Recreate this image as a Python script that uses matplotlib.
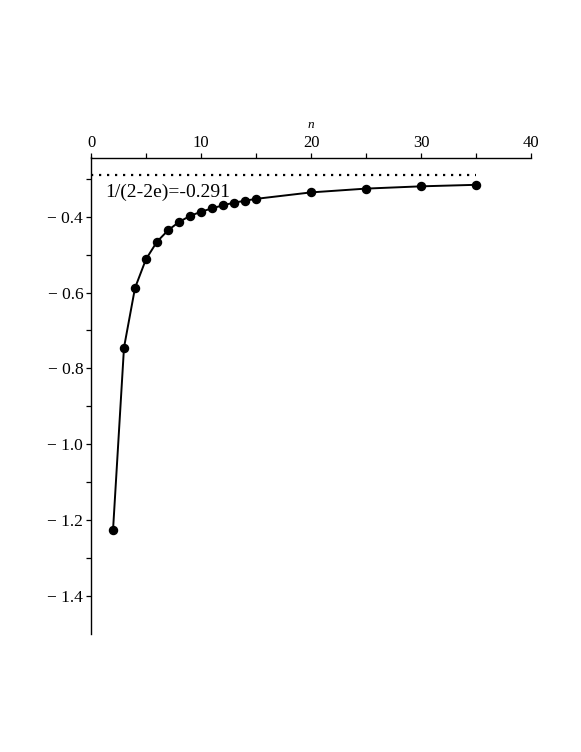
import matplotlib
matplotlib.use("Agg")
import matplotlib.pyplot as plt
from matplotlib.ticker import MultipleLocator, FixedLocator

n_vals = [2, 3, 4, 5, 6, 7, 8, 9, 10, 11, 12, 13, 14, 15, 20, 25, 30, 35]
f_vals = [-1.227, -0.745, -0.588, -0.512, -0.466, -0.436, -0.414, -0.398, -0.387,
          -0.378, -0.370, -0.363, -0.358, -0.353, -0.336, -0.326, -0.320, -0.316]
limit_val = -0.291
limit_label = "1/(2-2e)=-0.291"
xticks = [0, 10, 20, 30, 40]
yticks = [-0.4, -0.6, -0.8, -1.0, -1.2, -1.4]
ytick_labels = ["\u2212 0.4", "\u2212 0.6", "\u2212 0.8", "\u2212 1.0", "\u2212 1.2", "\u2212 1.4"]

plt.rcParams['font.family'] = ['Liberation Serif', 'DejaVu Serif']

y_top = -0.244
y_bot = -1.5
fig = plt.figure(figsize=(5.81, 7.52), dpi=100)
ax = fig.add_axes([91/581, 1 - 634/752, 440/581, (634 - 157.5)/752])

ax.plot(n_vals, f_vals, color='black', lw=1.4, marker='o', ms=5.8, zorder=3)
ax.plot([0, 35], [limit_val, limit_val], color='black', lw=1.6,
        linestyle=(0, (1, 2.6)), zorder=2)
ax.text(1.3, -0.335, limit_label, fontsize=14, va='center', ha='left')

ax.set_xlim(0, 40)
ax.set_ylim(y_bot, y_top)

for s in ['right', 'bottom']:
    ax.spines[s].set_visible(False)
for s in ['left', 'top']:
    ax.spines[s].set_linewidth(1.0)

ax.xaxis.tick_top()
ax.set_xticks(xticks)
ax.set_xticklabels([str(v) for v in xticks])
ax.xaxis.set_minor_locator(MultipleLocator(5))
ax.set_yticks(yticks)
ax.set_yticklabels(ytick_labels)
ax.yaxis.set_minor_locator(FixedLocator([-0.3, -0.5, -0.7, -0.9, -1.1, -1.3]))
ax.tick_params(axis='both', which='both', direction='out', length=3.6, width=0.9)
ax.tick_params(axis='x', labelsize=12, pad=1.0)
ax.tick_params(axis='y', labelsize=12.5, pad=2)
ax.text(20, -0.158, "n", fontsize=9.5, style='italic', ha='center', va='center')

fig.savefig("out.png", dpi=100)
